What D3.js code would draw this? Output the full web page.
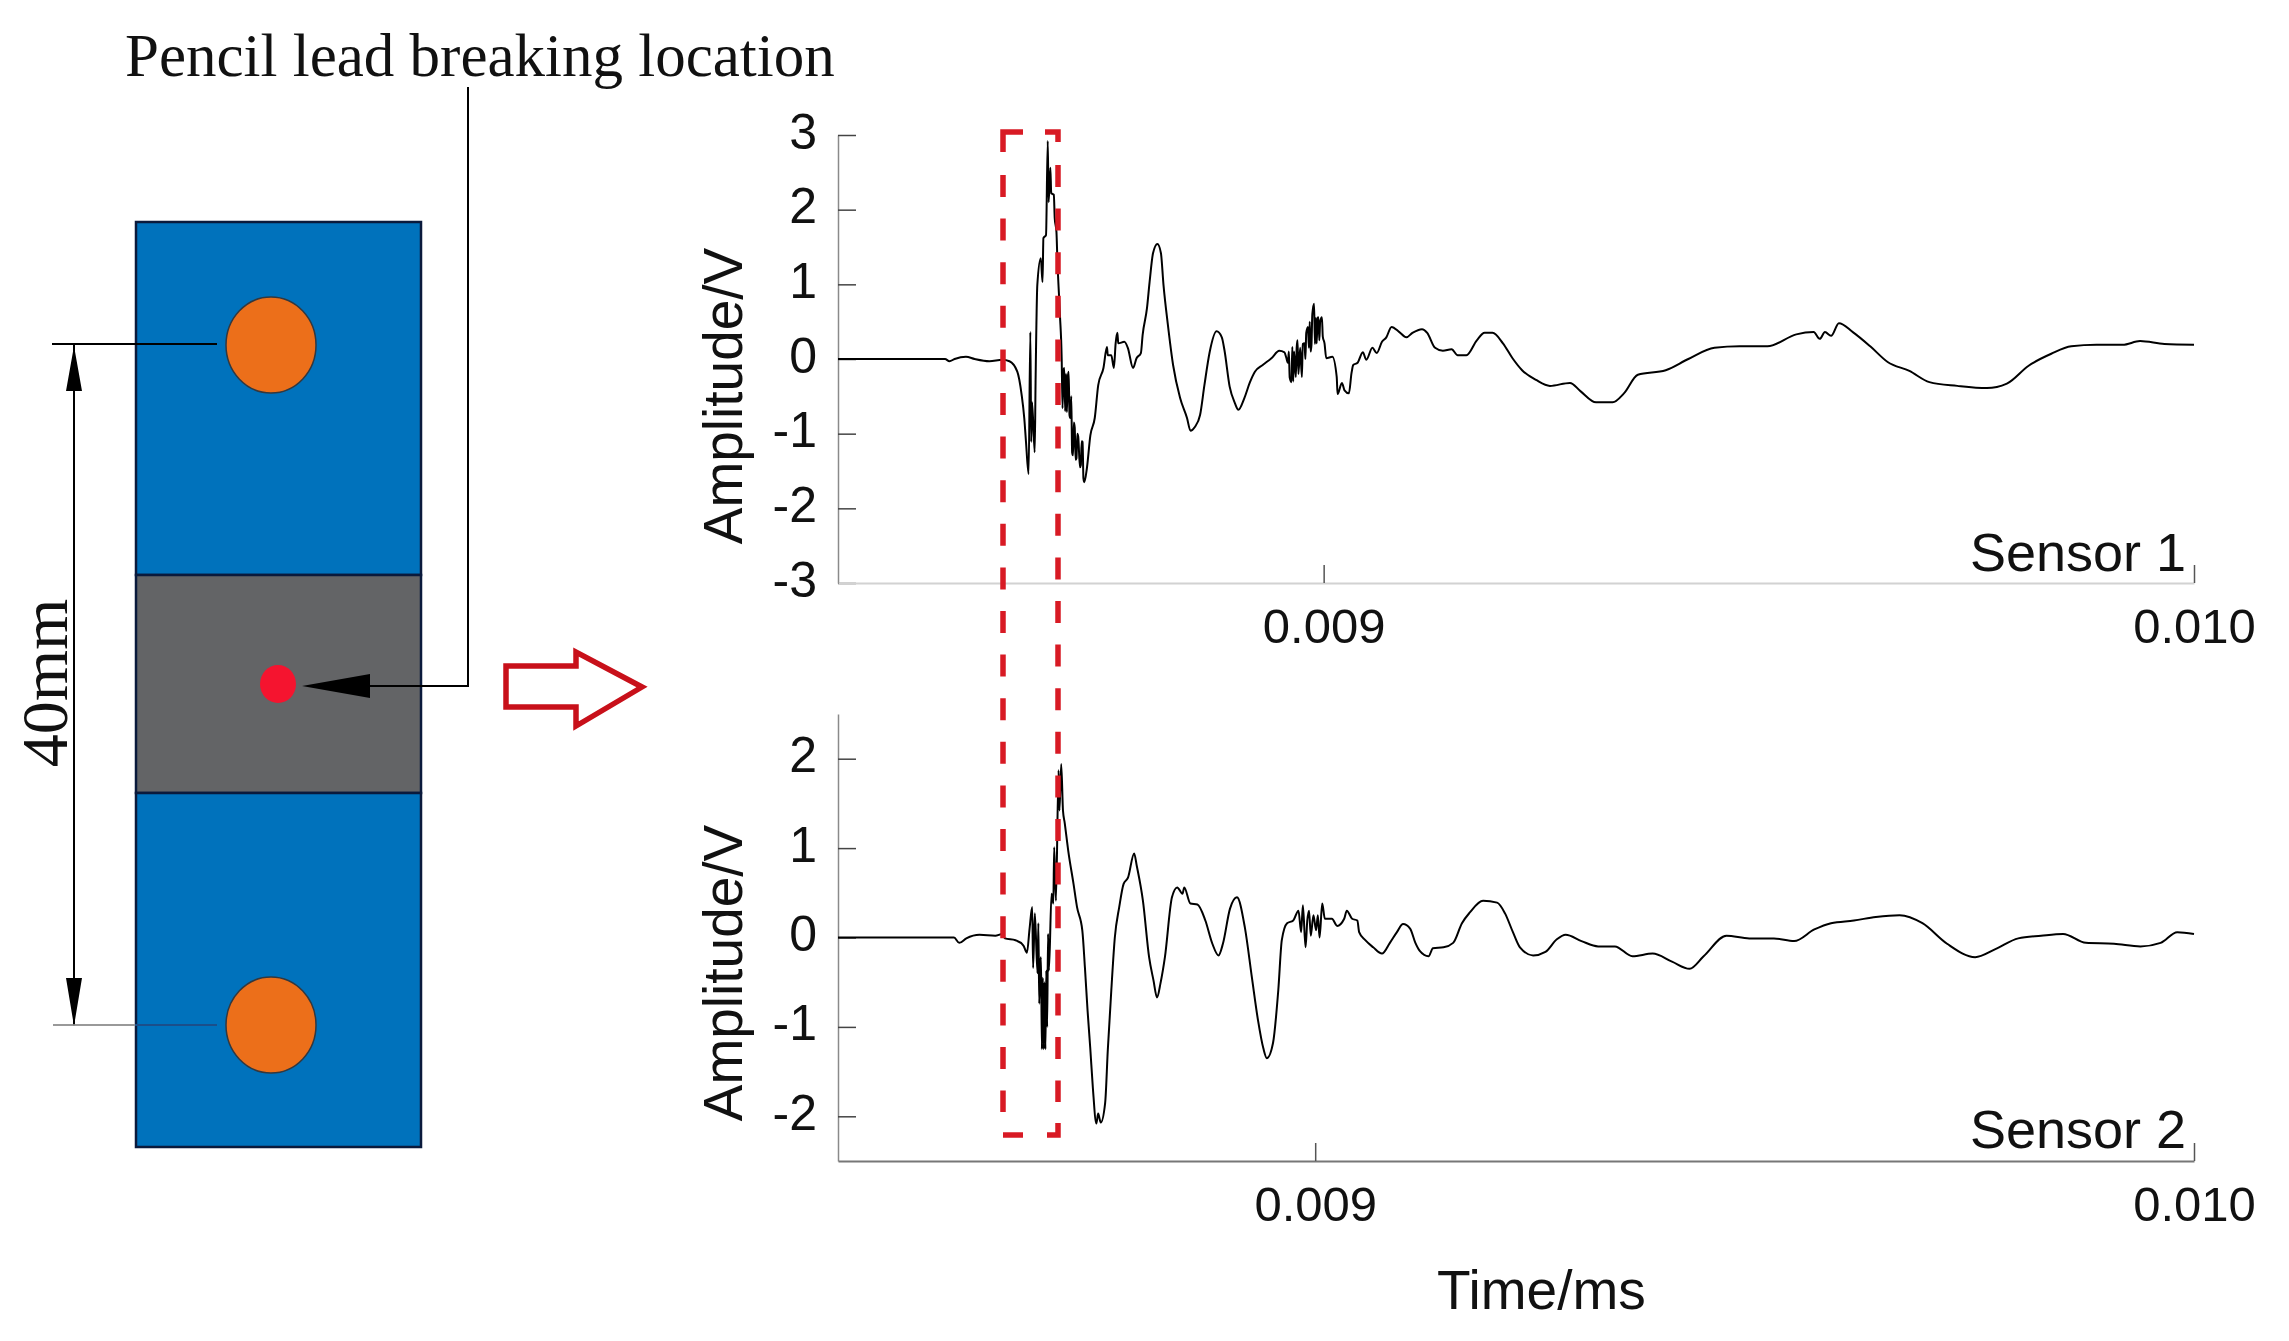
<!DOCTYPE html>
<html>
<head>
<meta charset="utf-8">
<title>Pencil lead break signals</title>
<script src="https://cdn.jsdelivr.net/npm/d3@7"></script>
<style>
  body { margin: 0; background: #fff; }
  text { fill: #111; }
  .sans { font-family: "Liberation Sans", Arial, sans-serif; }
  .serif { font-family: "Liberation Serif", "Times New Roman", serif; }
</style>
</head>
<body>
<svg id="chart" width="2289" height="1341"></svg>
<script>
// time is in 1e-6 ms, so 9000 is the 0.009 tick
const sensor1Time = [8442,8565,8570,8576,8589,8599,8616,8631,8639,8648,8653,8656,8658,8661,8663,8664,8665,8668,8669,8671,8675,8677,8678,8681,8683,8684,8686,8687,8690,8691,8693,8694,8697,8699,8700,8701,8702,8703,8704,8705,8706,8707,8708,8709,8710,8711,8712,8713,8714,8715,8716,8717,8718,8720,8721,8722,8723,8724,8725,8728,8732,8737,8741,8747,8751,8752,8756,8759,8761,8763,8764,8771,8775,8781,8785,8790,8792,8797,8800,8804,8809,8813,8816,8821,8827,8835,8843,8847,8852,8858,8863,8869,8877,8883,8886,8892,8898,8902,8909,8915,8921,8930,8940,8949,8955,8957,8959,8960,8961,8963,8964,8965,8966,8968,8969,8970,8971,8973,8975,8976,8978,8979,8980,8982,8983,8984,8985,8986,8987,8989,8990,8991,8992,8993,8994,8995,8996,8998,8999,9001,9003,9010,9015,9016,9021,9024,9029,9032,9034,9039,9045,9049,9056,9061,9067,9072,9078,9087,9095,9102,9113,9119,9128,9137,9147,9154,9164,9176,9185,9194,9206,9217,9228,9244,9260,9283,9295,9313,9332,9345,9361,9393,9419,9449,9478,9510,9543,9563,9570,9576,9583,9592,9608,9628,9648,9673,9696,9728,9762,9785,9810,9836,9859,9888,9918,9938,9966,10000];
const sensor1Amp = [0,0,-0.03,0,0.03,0,-0.03,-0.01,-0.03,-0.17,-0.48,-0.79,-1.11,-1.54,0.36,-1.11,-0.58,-1.25,-0.31,0.99,1.35,1.03,1.62,1.66,2.92,2.10,2.56,2.22,2.20,1.89,1.70,1.35,0.59,0.01,-0.66,-0.15,-0.12,-0.7,-0.2,-0.71,-0.25,-0.17,-0.75,-0.79,-0.5,-1.25,-1.29,-0.85,-0.92,-1.35,-1.33,-1.0,-1.04,-1.45,-1.42,-1.1,-1.11,-1.6,-1.65,-1.46,-1.02,-0.79,-0.35,-0.12,0.16,0.05,0.05,-0.12,0.21,0.35,0.21,0.23,0.15,-0.12,0.01,0.08,0.32,0.68,1.03,1.42,1.54,1.42,0.99,0.46,-0.08,-0.52,-0.79,-0.96,-0.91,-0.75,-0.35,0.09,0.37,0.29,0.12,-0.37,-0.59,-0.68,-0.52,-0.32,-0.17,-0.08,0.01,0.11,0.09,0.02,-0.05,0.1,-0.25,-0.31,0.16,-0.3,0.1,-0.24,0.15,0.25,-0.2,0.15,-0.24,0.2,0.21,0,0.35,0.43,0.15,0.5,0.1,0.19,0.6,0.74,0.2,0.55,0.21,0.55,0.56,0.25,0.5,0.56,0.3,0.21,0.01,0.03,-0.24,-0.47,-0.32,-0.42,-0.46,-0.19,-0.08,-0.05,0.09,-0.01,0.15,0.08,0.23,0.29,0.43,0.36,0.29,0.35,0.40,0.35,0.15,0.11,0.13,0.05,0.05,0.25,0.35,0.35,0.21,0.01,-0.15,-0.28,-0.36,-0.32,-0.43,-0.58,-0.58,-0.46,-0.21,-0.15,0,0.15,0.17,0.17,0.33,0.36,0.27,0.36,0.31,0.48,0.36,0.17,-0.04,-0.16,-0.31,-0.36,-0.39,-0.33,-0.09,0.07,0.17,0.19,0.19,0.24,0.20,0.19];

const sensor2Time = [8457,8589,8595,8603,8618,8636,8644,8647,8659,8668,8672,8675,8678,8679,8681,8684,8685,8686,8687,8688,8689,8690,8691,8692,8693,8694,8695,8696,8697,8700,8702,8703,8705,8708,8709,8711,8713,8715,8719,8725,8729,8735,8738,8741,8744,8747,8751,8753,8756,8761,8764,8768,8772,8777,8782,8787,8794,8797,8804,8811,8816,8820,8824,8829,8837,8843,8849,8851,8858,8866,8875,8883,8890,8895,8903,8911,8920,8928,8935,8941,8945,8952,8958,8962,8968,8975,8981,8984,8986,8989,8991,8993,8995,8998,9001,9003,9005,9008,9011,9019,9025,9033,9036,9042,9048,9050,9057,9066,9076,9085,9093,9100,9108,9114,9119,9129,9134,9146,9157,9167,9176,9191,9207,9216,9225,9233,9248,9262,9275,9285,9303,9322,9341,9361,9384,9406,9426,9442,9468,9494,9522,9545,9568,9587,9613,9638,9665,9691,9719,9751,9774,9800,9826,9851,9877,9909,9939,9962,9981,10000];
const sensor2Amp = [0,0,-0.06,-0.01,0.03,0.02,0.04,-0.01,-0.03,-0.09,-0.17,0.10,0.34,-0.34,0.27,-0.40,0.16,-0.74,-0.3,-0.22,-1.25,-0.45,-1.25,-0.5,-1.25,-0.37,-1.0,0.04,-0.37,0.49,0.38,1.01,0.41,1.87,1.42,1.94,1.42,1.28,0.97,0.60,0.34,0.08,-0.34,-0.82,-1.23,-1.68,-2.08,-1.97,-2.07,-1.85,-1.26,-0.59,0,0.34,0.60,0.67,0.94,0.80,0.41,-0.22,-0.48,-0.67,-0.51,-0.22,0.45,0.56,0.49,0.56,0.38,0.37,0.19,-0.07,-0.20,-0.07,0.32,0.45,0.11,-0.45,-0.93,-1.24,-1.35,-1.18,-0.59,-0.03,0.16,0.19,0.30,0.06,0.36,-0.11,0.19,0.30,0.02,0.25,0.08,0.25,0,0.38,0.21,0.21,0.13,0.21,0.30,0.21,0.19,0.06,-0.03,-0.11,-0.18,-0.06,0.06,0.15,0.10,-0.06,-0.15,-0.21,-0.12,-0.11,-0.06,0.16,0.28,0.41,0.39,0.27,0.06,-0.11,-0.20,-0.16,-0.02,0.03,-0.04,-0.10,-0.10,-0.21,-0.18,-0.27,-0.35,-0.21,0.02,-0.01,-0.01,-0.04,0.09,0.16,0.19,0.23,0.25,0.16,-0.07,-0.22,-0.13,-0.01,0.02,0.04,-0.06,-0.07,-0.10,-0.06,0.06,0.04];

const sensor1Ticks = [-3, -2, -1, 0, 1, 2, 3];
const sensor2Ticks = [-2, -1, 0, 1, 2];
const timeTicks = [9000, 10000];
const timeLabels = ["0.009", "0.010"];

const svg = d3.select("#chart");

// plate schematic on the left
function drawPlate() {
  const g = svg.append("g");
  const blocks = [
    { y: 222, h: 353, fill: "#0072bc" },
    { y: 575, h: 218, fill: "#636466" },
    { y: 793, h: 354, fill: "#0072bc" }
  ];
  g.selectAll("rect")
    .data(blocks)
    .enter()
    .append("rect")
    .attr("x", 136)
    .attr("y", (d) => d.y)
    .attr("width", 285)
    .attr("height", (d) => d.h)
    .attr("fill", (d) => d.fill)
    .attr("stroke", "#0a1a3c")
    .attr("stroke-width", 2.5);

  // leader and dimension lines
  g.append("path").attr("d", "M52,344H217M74,344V1024").attr("fill", "none").attr("stroke", "#000").attr("stroke-width", 2);
  g.append("path").attr("d", "M53,1025H135").attr("stroke", "#999").attr("stroke-width", 2);
  g.append("path").attr("d", "M135,1025H217").attr("stroke", "#1b4f8a").attr("stroke-width", 2);
  g.append("path").attr("d", "M468,87V686H370").attr("fill", "none").attr("stroke", "#000").attr("stroke-width", 2);
  g.append("path").attr("d", "M74,346L66,391H82Z M74,1026L66,978H82Z M302,686L370,674V698Z").attr("fill", "#000");

  const sensors = [{ x: 271, y: 345 }, { x: 271, y: 1025 }];
  g.selectAll("ellipse.sensor")
    .data(sensors)
    .enter()
    .append("ellipse")
    .attr("class", "sensor")
    .attr("cx", (d) => d.x)
    .attr("cy", (d) => d.y)
    .attr("rx", 45)
    .attr("ry", 48)
    .attr("fill", "#ec6f1a")
    .attr("stroke", "#33383f")
    .attr("stroke-width", 1.5);

  g.append("ellipse").attr("cx", 278).attr("cy", 684).attr("rx", 18).attr("ry", 19).attr("fill", "#f5142f");

  svg.append("text")
    .attr("class", "serif")
    .attr("x", 125)
    .attr("y", 76)
    .attr("font-size", 61)
    .text("Pencil lead breaking location");

  svg.append("text")
    .attr("class", "serif")
    .attr("transform", "translate(67,683) rotate(-90)")
    .attr("text-anchor", "middle")
    .attr("font-size", 66)
    .text("40mm");

  // red block arrow
  svg.append("path")
    .attr("d", "M506,666H576V652L642,687L576,726V707H506Z")
    .attr("fill", "#fff")
    .attr("stroke", "#c8101a")
    .attr("stroke-width", 5.5);
}

function drawPanel(opts) {
  const x = d3.scaleLinear().domain(opts.xDomain).range([838, 2194]);
  const y = d3.scaleLinear().domain(opts.yDomain).range([opts.bottom, opts.top]);

  const yAxis = d3.axisLeft(y)
    .tickValues(opts.yTicks)
    .tickSize(-18)
    .tickSizeOuter(0)
    .tickPadding(21)
    .tickFormat((d) => String(d));
  const xAxis = d3.axisBottom(x)
    .tickValues(timeTicks)
    .tickSize(-18)
    .tickSizeOuter(0)
    .tickPadding(25)
    .tickFormat((d, i) => timeLabels[i]);

  const gy = svg.append("g").attr("class", "sans").attr("transform", "translate(838,0)").call(yAxis);
  const gx = svg.append("g").attr("class", "sans").attr("transform", `translate(0,${opts.bottom})`).call(xAxis);

  gy.select(".domain").attr("stroke", "#8a8a8a").attr("stroke-width", 1.5);
  gy.selectAll(".tick line").attr("stroke", "#444").attr("stroke-width", 1.5);
  gy.selectAll("text").attr("font-size", 50).attr("fill", "#111").attr("y", -3);

  gx.select(".domain").attr("stroke", opts.baseColor).attr("stroke-width", 2);
  gx.selectAll(".tick line").attr("stroke", "#555").attr("stroke-width", 1.5);
  gx.selectAll("text").attr("font-size", 49).attr("fill", "#111");

  const line = d3.line()
    .x((d, i) => x(opts.time[i]))
    .y((d) => y(d))
    .curve(d3.curveMonotoneX);

  svg.append("path")
    .datum(opts.amp)
    .attr("d", line)
    .attr("fill", "none")
    .attr("stroke", "#000")
    .attr("stroke-width", 2)
    .attr("stroke-linejoin", "round");

  svg.append("text")
    .attr("class", "sans")
    .attr("transform", `translate(742,${opts.labelY}) rotate(-90)`)
    .attr("text-anchor", "middle")
    .attr("font-size", 55)
    .text("Amplitude/V");

  svg.append("text")
    .attr("class", "sans")
    .attr("x", 1970)
    .attr("y", opts.nameY)
    .attr("font-size", 54)
    .text(opts.name);
}

drawPlate();

drawPanel({
  time: sensor1Time,
  amp: sensor1Amp,
  xDomain: [8442, 10000],
  yDomain: [-3, 3],
  yTicks: sensor1Ticks,
  top: 135,
  bottom: 583,
  baseColor: "#d2d2d2",
  labelY: 396,
  name: "Sensor 1",
  nameY: 571
});

drawPanel({
  time: sensor2Time,
  amp: sensor2Amp,
  xDomain: [8457, 10000],
  yDomain: [-2.5, 2.5],
  yTicks: sensor2Ticks,
  top: 714,
  bottom: 1161,
  baseColor: "#777",
  labelY: 973,
  name: "Sensor 2",
  nameY: 1148
});

svg.append("text")
  .attr("class", "sans")
  .attr("x", 1437)
  .attr("y", 1309)
  .attr("font-size", 55)
  .text("Time/ms");

// red dashed box over the first arrival in both panels
const box = svg.append("g").attr("fill", "none").attr("stroke", "#d81a24").attr("stroke-width", 5.5);
box.append("path").attr("d", "M1003,152V132H1023");
box.append("path").attr("d", "M1045,132H1058V142");
box.append("path").attr("d", "M1003,1135H1023");
box.append("path").attr("d", "M1047,1135H1058V1123");
box.append("path").attr("d", "M1003,175V1112").attr("stroke-dasharray", "22 21.6");
box.append("path").attr("d", "M1058,165V1102").attr("stroke-dasharray", "22 21.6");
</script>
</body>
</html>
